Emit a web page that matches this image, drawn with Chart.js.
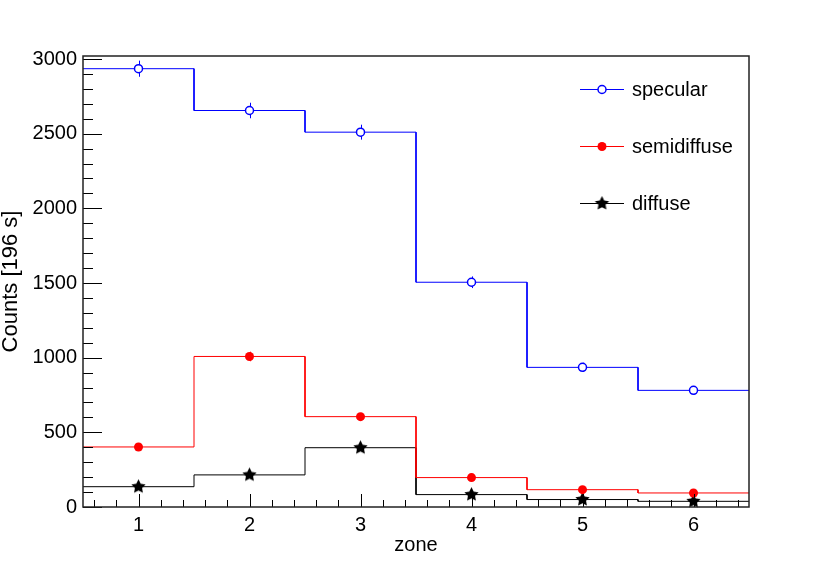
<!DOCTYPE html>
<html>
<head>
<meta charset="utf-8">
<script src="https://cdn.jsdelivr.net/npm/chart.js@4.4.1/dist/chart.umd.min.js"></script>
<style>
  html, body { margin: 0; padding: 0; background: #fff; }
</style>
</head>
<body>
<canvas id="grafico" width="834" height="565"></canvas>
<script>
const zonas = [1, 2, 3, 4, 5, 6];
const specular = [2935, 2655, 2510, 1505, 935, 781];
const semidiffuse = [402, 1008, 605, 197, 116, 94];
const diffuse = [136, 215, 397, 83, 50, 38];
const errSpecular = [54, 52, 50, 39, 31, 28];
const errSemidiffuse = [20, 32, 25, 14, 11, 10];
const errDiffuse = [12, 15, 20, 9, 7, 6];
const xTicks = [1, 2, 3, 4, 5, 6];
const yTicks = [0, 500, 1000, 1500, 2000, 2500, 3000];
const nomes = ['specular', 'semidiffuse', 'diffuse'];

const FONTE = '"Liberation Sans", Arial, Helvetica, sans-serif';

// estrela cheia (marker 29 do ROOT)
function estrela(r) {
  const c = document.createElement('canvas');
  const s = Math.ceil(r * 2 + 2);
  c.width = c.height = s;
  const g = c.getContext('2d');
  g.translate(s / 2, s / 2);
  g.beginPath();
  for (let k = 0; k < 10; k++) {
    const rr = k % 2 ? r * 0.5 : r;
    const a = -Math.PI / 2 + k * Math.PI / 5;
    g.lineTo(rr * Math.cos(a), rr * Math.sin(a));
  }
  g.closePath();
  g.fillStyle = '#000';
  g.fill();
  return c;
}
const imgEstrela = estrela(7.5);

function degraus(vals) {
  const pts = [];
  zonas.forEach((z, i) => {
    pts.push({ x: z - 0.5, y: vals[i] });
    pts.push({ x: z + 0.5, y: vals[i] });
  });
  return pts;
}
function pontos(vals) {
  return zonas.map((z, i) => ({ x: z, y: vals[i] }));
}

const series = [
  { vals: specular, err: errSpecular, cor: '#0000ff' },
  { vals: semidiffuse, err: errSemidiffuse, cor: '#ff0000' },
  { vals: diffuse, err: errDiffuse, cor: '#000000' }
];

function desenhaMarcador(ctx, i, x, y) {
  if (i === 0) {
    ctx.beginPath();
    ctx.arc(x, y, 4, 0, Math.PI * 2);
    ctx.fillStyle = '#fff';
    ctx.fill();
    ctx.lineWidth = 1.5;
    ctx.strokeStyle = '#0000ff';
    ctx.stroke();
  } else if (i === 1) {
    ctx.beginPath();
    ctx.arc(x, y, 4.5, 0, Math.PI * 2);
    ctx.fillStyle = '#ff0000';
    ctx.fill();
  } else {
    ctx.drawImage(imgEstrela, x - imgEstrela.width / 2, y - imgEstrela.height / 2);
  }
}

const rootPlugin = {
  id: 'root',
  beforeDatasetsDraw(chart) {
    const { ctx, scales: { x, y } } = chart;
    ctx.save();
    ctx.lineWidth = 1;
    series.forEach(s => {
      ctx.strokeStyle = s.cor;
      s.vals.forEach((v, i) => {
        const px = Math.round(x.getPixelForValue(zonas[i])) + 0.5;
        ctx.beginPath();
        ctx.moveTo(px, y.getPixelForValue(v - s.err[i]));
        ctx.lineTo(px, y.getPixelForValue(v + s.err[i]));
        ctx.stroke();
      });
    });
    ctx.restore();
  },
  afterDraw(chart) {
    const { ctx, chartArea: a, scales: { x, y } } = chart;
    ctx.save();
    ctx.strokeStyle = '#000';
    ctx.lineWidth = 1;
    // ticks do eixo y
    for (let v = 0; v <= 3000; v += 100) {
      const py = Math.round(y.getPixelForValue(v)) + 0.5;
      const len = yTicks.includes(v) ? 19 : 10;
      ctx.beginPath();
      ctx.moveTo(a.left, py);
      ctx.lineTo(a.left + len, py);
      ctx.stroke();
    }
    // ticks do eixo x
    for (let k = 3; k <= 32; k++) {
      const v = k / 5;
      const px = Math.round(x.getPixelForValue(v)) + 0.5;
      const len = xTicks.includes(v) ? 13 : 7;
      ctx.beginPath();
      ctx.moveTo(px, a.bottom);
      ctx.lineTo(px, a.bottom - len);
      ctx.stroke();
    }
    // moldura
    ctx.lineWidth = 1.5;
    ctx.strokeStyle = '#222';
    ctx.strokeRect(a.left, a.top, a.right - a.left, a.bottom - a.top);

    // legenda
    ctx.font = '20px ' + FONTE;
    ctx.textBaseline = 'middle';
    ctx.textAlign = 'left';
    series.forEach((s, i) => {
      const ly = 89 + i * 57;
      ctx.beginPath();
      ctx.lineWidth = 1;
      ctx.strokeStyle = s.cor;
      ctx.moveTo(580, ly + 0.5);
      ctx.lineTo(624, ly + 0.5);
      ctx.stroke();
      desenhaMarcador(ctx, i, 602, ly + 0.5);
      ctx.fillStyle = '#000';
      ctx.fillText(nomes[i], 632, ly + 1);
    });
    ctx.restore();
  }
};

const ctx = document.getElementById('grafico').getContext('2d');
new Chart(ctx, {
  type: 'line',
  data: {
    datasets: [
      { label: 'specular', data: degraus(specular), borderColor: '#0000ff', borderWidth: 1, pointRadius: 0, order: 2 },
      { label: 'semidiffuse', data: degraus(semidiffuse), borderColor: '#ff0000', borderWidth: 1, pointRadius: 0, order: 2 },
      { label: 'diffuse', data: degraus(diffuse), borderColor: '#000000', borderWidth: 1, pointRadius: 0, order: 2 },
      { label: 'specular pts', data: pontos(specular), showLine: false, pointRadius: 4, pointBackgroundColor: '#fff',
        pointBorderColor: '#0000ff', pointBorderWidth: 1.5, order: 0, clip: false },
      { label: 'semidiffuse pts', data: pontos(semidiffuse), showLine: false, pointRadius: 4.5, pointBackgroundColor: '#ff0000',
        pointBorderWidth: 0, order: 0, clip: false },
      { label: 'diffuse pts', data: pontos(diffuse), showLine: false, pointStyle: imgEstrela, pointRadius: 7, order: 0, clip: false }
    ]
  },
  options: {
    responsive: false,
    animation: false,
    devicePixelRatio: 1,
    layout: { padding: { left: 0, top: 56, right: 85, bottom: 0 } },
    plugins: { legend: { display: false }, tooltip: { enabled: false } },
    scales: {
      x: {
        type: 'linear',
        min: 0.5,
        max: 6.5,
        afterBuildTicks: s => { s.ticks = xTicks.map(v => ({ value: v })); },
        afterFit: s => { s.height = 58; },
        grid: { display: false, drawTicks: false },
        border: { display: false },
        ticks: { color: '#000', padding: 6, maxRotation: 0, font: { family: FONTE, size: 20 }, callback: v => String(v) },
        title: { display: true, text: 'zone', color: '#000', font: { family: FONTE, size: 20, lineHeight: 1 }, padding: { top: 0, bottom: 10 } }
      },
      y: {
        type: 'linear',
        min: 0,
        max: 3020,
        afterBuildTicks: s => { s.ticks = yTicks.map(v => ({ value: v })); },
        afterFit: s => { s.width = 83; },
        grid: { display: false, drawTicks: false },
        border: { display: false },
        ticks: { color: '#000', padding: 6, font: { family: FONTE, size: 20 }, callback: v => String(v) },
        title: { display: true, text: 'Counts [196 s]', color: '#000', font: { family: FONTE, size: 22, lineHeight: 1 }, padding: { top: 0, bottom: 0 } }
      }
    }
  },
  plugins: [rootPlugin]
});
</script>
</body>
</html>
